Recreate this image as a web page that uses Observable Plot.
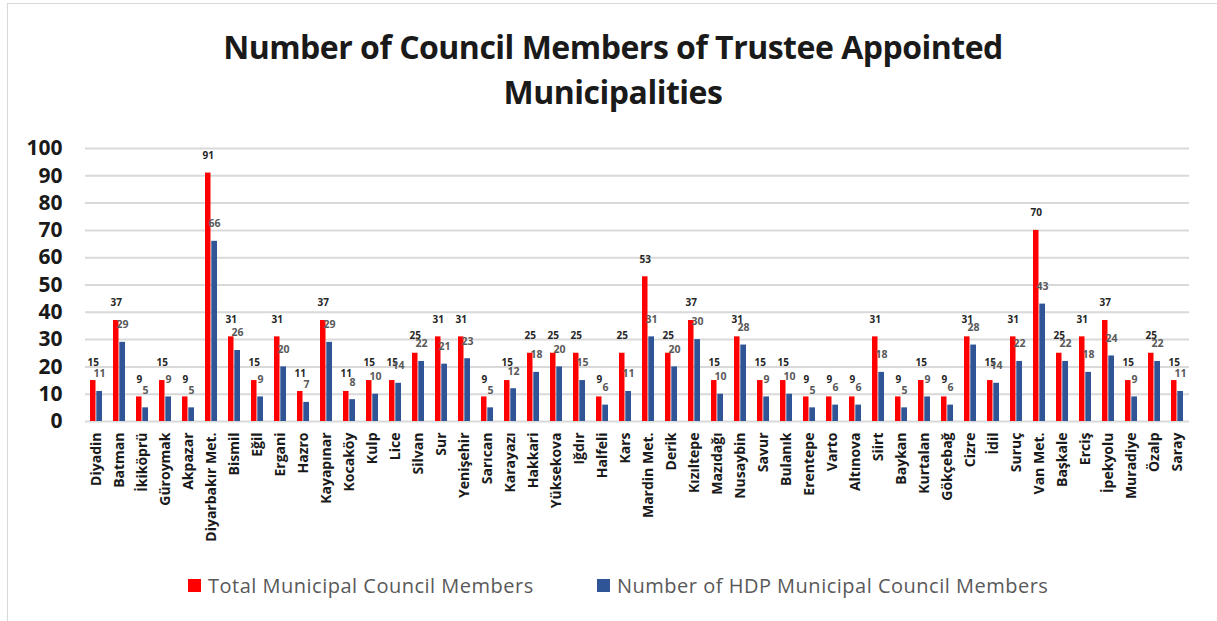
<!DOCTYPE html>
<html><head><meta charset="utf-8">
<script src="https://cdn.jsdelivr.net/npm/d3@7"></script>
<script src="https://cdn.jsdelivr.net/npm/@observablehq/plot@0.6"></script>
<style>
body{margin:0;background:#fff;width:1217px;height:621px;overflow:hidden;position:relative;font-family:"Open Sans",sans-serif}
#frame{position:absolute;left:7px;top:3px;width:1240px;height:640px;border:1px solid #d9d9d9;box-sizing:border-box}
#title{position:absolute;left:0;top:24px;width:1226px;text-align:center;font-weight:700;font-size:32px;letter-spacing:-0.5px;line-height:45px;color:#1a1a1a}
#chart{position:absolute;left:0;top:130px}
.lg{position:absolute;top:573px;height:24px;display:flex;align-items:center;font-size:20px;letter-spacing:0.5px;color:#595959;white-space:nowrap}
.sw{display:inline-block;flex:none;width:13px;height:13px;margin-right:7px}
</style></head>
<body>
<div id="frame"></div>
<div id="title">Number of Council Members of Trustee Appointed<br>Municipalities</div>
<div id="chart"></div>
<div class="lg" style="left:188px"><span class="sw" style="background:#ff0000"></span>Total Municipal Council Members</div>
<div class="lg" style="left:597px"><span class="sw" style="background:#2f5597"></span>Number of HDP Municipal Council Members</div>
<script>
const categories = ["Diyadin","Batman","İkiköprü","Güroymak","Akpazar","Diyarbakır Met.","Bismil","Eğil","Ergani","Hazro","Kayapınar","Kocaköy","Kulp","Lice","Silvan","Sur","Yenişehir","Sarıcan","Karayazı","Hakkari","Yüksekova","Iğdır","Halfeli","Kars","Mardin Met.","Derik","Kızıltepe","Mazıdağı","Nusaybin","Savur","Bulanık","Erentepe","Varto","Altınova","Siirt","Baykan","Kurtalan","Gökçebağ","Cizre","İdil","Suruç","Van Met.","Başkale","Erciş","İpekyolu","Muradiye","Özalp","Saray"];
const totalMembers = [15,37,9,15,9,91,31,15,31,11,37,11,15,15,25,31,31,9,15,25,25,25,9,25,53,25,37,15,31,15,15,9,9,9,31,9,15,9,31,15,31,70,25,31,37,15,25,15];
const hdpMembers = [11,29,5,9,5,66,26,9,20,7,29,8,10,14,22,21,23,5,12,18,20,15,6,11,31,20,30,10,28,9,10,5,6,6,18,5,9,6,28,14,22,43,22,18,24,9,22,11];
const yTicks = [0,10,20,30,40,50,60,70,80,90,100];

const rows = categories.map((c,i)=>({c, total: totalMembers[i], hdp: hdpMembers[i]}));

const plot = Plot.plot({
  width: 1217, height: 430,
  marginLeft: 85, marginRight: 28, marginTop: 18, marginBottom: 139,
  style: {fontFamily: "Open Sans", background: "transparent", overflow: "visible", color: "#1a1a1a"},
  x: {domain: categories, padding: 0, label: null},
  y: {domain: [0,100], label: null},
  marks: [
    Plot.gridY(yTicks, {stroke: "#d9d9d9", strokeWidth: 2, strokeOpacity: 1}),
    Plot.barY(rows, {x: "c", y: "total", fill: "#ff0000", insetLeft: 5, insetRight: 12.5}),
    Plot.barY(rows, {x: "c", y: "hdp", fill: "#2f5597", insetLeft: 11.3, insetRight: 6}),
    Plot.text(rows, {x: "c", y: "total", text: d => d.total, dx: -3.75, dy: -17.5, fontSize: 10, fontWeight: 700, fill: "#262626"}),
    Plot.text(rows, {x: "c", y: "hdp", text: d => d.hdp, dx: 2.5, dy: -17.5, fontSize: 10.5, fontWeight: 700, fill: "#595959"}),
    Plot.axisY(yTicks, {tickSize: 0, tickPadding: 23, fontSize: 21, fontWeight: 700, label: null}),
    Plot.axisX({tickSize: 0, tickPadding: 11, tickRotate: -90, fontSize: 14, fontWeight: 700, label: null})
  ]
});
document.getElementById("chart").appendChild(plot);
</script>
</body></html>
